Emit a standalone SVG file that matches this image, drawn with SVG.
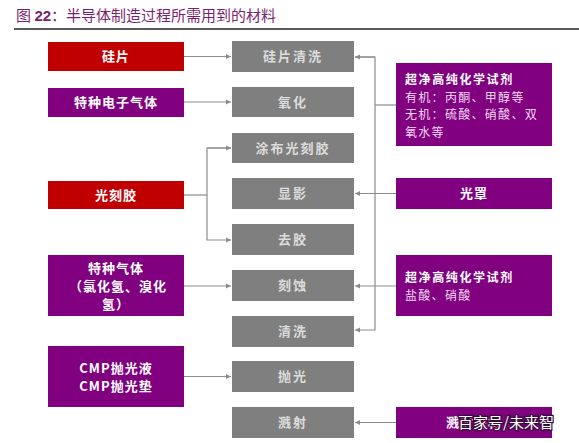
<svg xmlns="http://www.w3.org/2000/svg" width="579" height="443" viewBox="0 0 579 443">
<defs>
<marker id="arr" markerWidth="6" markerHeight="6" refX="5" refY="3" orient="auto" markerUnits="userSpaceOnUse">
<path d="M0,0.5 L5,3 L0,5.5 Z" fill="#8c8c8c"/>
</marker>
<style>
text{font-family:"Noto Sans CJK SC","Liberation Serif",serif;}
.red{fill:#c00000;}
.pur{fill:#800080;}
.gray{fill:#7f7f7f;}
.lt{fill:#ffffff;font-size:13px;font-weight:bold;text-anchor:middle;letter-spacing:1px;}
.gt{fill:#dcdcdc;font-size:13px;font-weight:bold;text-anchor:middle;letter-spacing:2px;}
.rt{fill:#ffffff;font-size:12px;font-weight:bold;letter-spacing:1.6px;}
.rs{fill:#f0d8f0;font-size:12px;letter-spacing:1.3px;}
.c line,.c path{stroke:#8c8c8c;stroke-width:1.2;fill:none;}
</style>
</defs>
<rect width="579" height="443" fill="#ffffff"/>
<g id="title">
<text x="16" y="21" font-size="15" fill="#7b1f6e"><tspan>图 </tspan><tspan font-family="Liberation Sans,sans-serif" font-weight="bold">22</tspan><tspan>：半导体制造过程所需用到的材料</tspan></text>
<line x1="14" y1="29" x2="579" y2="29" stroke="#222" stroke-width="1.5"/>
</g>
<g class="c" id="connectors">
<line x1="184" y1="56.5" x2="231" y2="56.5" marker-end="url(#arr)"/>
<line x1="184" y1="102" x2="231" y2="102" marker-end="url(#arr)"/>
<line x1="184" y1="195" x2="207" y2="195"/>
<path d="M231,148 H207 V240 H231" marker-end="url(#arr)"/>
<line x1="207" y1="148" x2="231" y2="148" marker-end="url(#arr)"/>
<line x1="184" y1="286" x2="231" y2="286" marker-end="url(#arr)"/>
<line x1="184" y1="376.5" x2="231" y2="376.5" marker-end="url(#arr)"/>
<line x1="396" y1="105" x2="375" y2="105"/>
<path d="M355,57 H375 V330 H355" marker-end="url(#arr)"/>
<line x1="375" y1="57" x2="355" y2="57" marker-end="url(#arr)"/>
<line x1="396" y1="193.5" x2="355" y2="193.5" marker-end="url(#arr)"/>
<line x1="396" y1="286" x2="355" y2="286" marker-end="url(#arr)"/>
<line x1="396" y1="422.5" x2="355" y2="422.5" marker-end="url(#arr)"/>
</g>
<g id="n-guipian"><rect class="red" x="48" y="42" width="136" height="29"/><text class="lt" x="116" y="61">硅片</text></g>
<g id="n-tezhongdianzi"><rect class="pur" x="48" y="88" width="136" height="29"/><text class="lt" x="116" y="107">特种电子气体</text></g>
<g id="n-guangkejiao"><rect class="red" x="48" y="181" width="136" height="28"/><text class="lt" x="116" y="200">光刻胶</text></g>
<g id="n-tezhongqiti"><rect class="pur" x="48" y="255" width="136" height="61"/><text class="lt" x="116" y="273">特种气体</text><text class="lt" x="118" y="291">（氯化氢、溴化</text><text class="lt" x="116" y="309">氢）</text></g>
<g id="n-cmp"><rect class="pur" x="48" y="346" width="136" height="61"/><text class="lt" x="116" y="373" font-size="12.5" letter-spacing="0">CMP抛光液</text><text class="lt" x="116" y="391" font-size="12.5" letter-spacing="0">CMP抛光垫</text></g>
<g id="m1"><rect class="gray" x="232" y="41" width="122" height="31"/><text class="gt" x="293" y="61">硅片清洗</text></g>
<g id="m2"><rect class="gray" x="232" y="87" width="122" height="30"/><text class="gt" x="293" y="107">氧化</text></g>
<g id="m3"><rect class="gray" x="232" y="133" width="122" height="30"/><text class="gt" x="293" y="153">涂布光刻胶</text></g>
<g id="m4"><rect class="gray" x="232" y="178" width="122" height="31"/><text class="gt" x="293" y="198">显影</text></g>
<g id="m5"><rect class="gray" x="232" y="224" width="122" height="31"/><text class="gt" x="293" y="244">去胶</text></g>
<g id="m6"><rect class="gray" x="232" y="270" width="122" height="31"/><text class="gt" x="293" y="290">刻蚀</text></g>
<g id="m7"><rect class="gray" x="232" y="316" width="122" height="31"/><text class="gt" x="293" y="336">清洗</text></g>
<g id="m8"><rect class="gray" x="232" y="361" width="122" height="31"/><text class="gt" x="293" y="381">抛光</text></g>
<g id="m9"><rect class="gray" x="232" y="407" width="122" height="31"/><text class="gt" x="293" y="427">溅射</text></g>
<g id="r1"><rect class="pur" x="396" y="63" width="156" height="83"/>
<text class="rt" x="405" y="84">超净高纯化学试剂</text>
<text class="rs" x="405" y="101.6">有机：丙酮、甲醇等</text>
<text class="rs" x="405" y="119.2">无机：硫酸、硝酸、双</text>
<text class="rs" x="405" y="136.8">氧水等</text></g>
<g id="r2"><rect class="pur" x="396" y="178" width="156" height="31"/><text class="lt" x="474" y="198">光罩</text></g>
<g id="r3"><rect class="pur" x="396" y="255" width="156" height="61"/>
<text class="rt" x="405" y="282">超净高纯化学试剂</text>
<text class="rs" x="405" y="299.6">盐酸、硝酸</text></g>
<g id="r4"><rect class="pur" x="396" y="407" width="156" height="31"/><text class="lt" x="474" y="427">溅射靶材</text>
<text x="458" y="428" font-size="15" fill="#ffffff" stroke="#3a0a3a" stroke-width="2.5" paint-order="stroke" style="font-family:'Noto Sans CJK SC',sans-serif">百家号/未来智</text></g>
</svg>
